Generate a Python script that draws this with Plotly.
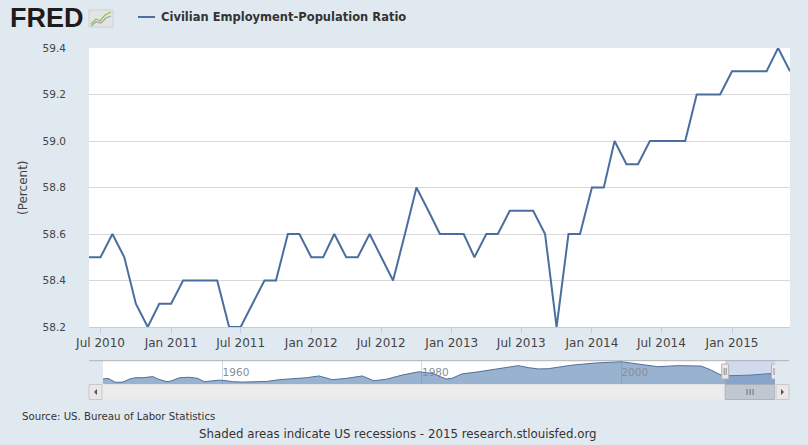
import pandas as pd
import plotly.graph_objects as go

# =========================
# DATA
# =========================
months = pd.date_range("2010-06-01", "2015-06-01", freq="MS")
emratio = [
    58.5, 58.5, 58.6, 58.5, 58.3, 58.2, 58.3,                          # Jun-Dec 2010
    58.3, 58.4, 58.4, 58.4, 58.4, 58.2, 58.2, 58.3, 58.4, 58.4, 58.6, 58.6,  # 2011
    58.5, 58.5, 58.6, 58.5, 58.5, 58.6, 58.5, 58.4, 58.6, 58.8, 58.7, 58.6,  # 2012
    58.6, 58.6, 58.5, 58.6, 58.6, 58.7, 58.7, 58.7, 58.6, 58.2, 58.6, 58.6,  # 2013
    58.8, 58.8, 59.0, 58.9, 58.9, 59.0, 59.0, 59.0, 59.0, 59.2, 59.2, 59.2,  # 2014
    59.3, 59.3, 59.3, 59.3, 59.4, 59.3,                                # Jan-Jun 2015
]

# navigator: long history, coarse read of the mini area chart
nav_dates = [
    "1948-01", "1948-07", "1949-04", "1950-01", "1950-09", "1951-04", "1952-01",
    "1953-01", "1953-07", "1954-06", "1954-11", "1955-09", "1956-09", "1957-07",
    "1958-03", "1959-01", "1959-09", "1960-06", "1961-01", "1962-01", "1963-06",
    "1964-06", "1965-09", "1967-01", "1968-06", "1969-09", "1971-01", "1972-06",
    "1974-01", "1975-03", "1976-06", "1978-01", "1979-09", "1981-01", "1982-06",
    "1983-01", "1984-01", "1985-09", "1987-06", "1989-09", "1990-09", "1991-09",
    "1992-09", "1993-06", "1995-01", "1997-06", "2000-01", "2001-06", "2003-09",
    "2005-09", "2008-01", "2009-01", "2010-01", "2010-09", "2013-01", "2014-09",
    "2015-06",
]
nav_values = [
    56.8, 57.1, 55.3, 55.4, 56.8, 57.4, 57.4,
    57.9, 56.8, 55.6, 55.9, 57.4, 57.6, 57.1,
    55.6, 56.0, 56.3, 56.0, 55.6, 55.4, 55.6,
    55.7, 56.5, 56.9, 57.4, 58.2, 56.5, 57.1,
    58.2, 56.0, 56.7, 58.6, 60.1, 59.4, 56.8,
    57.1, 59.1, 60.1, 61.4, 62.9, 62.0, 61.4,
    61.5, 62.0, 63.1, 64.1, 64.7, 63.8, 62.4,
    62.9, 62.7, 60.9, 58.6, 58.3, 58.6, 59.2,
    59.3,
]

y_ticks = [58.2, 58.4, 58.6, 58.8, 59.0, 59.2, 59.4]

# =========================
# STYLE
# =========================
W, H = 808, 445
ML, MR, MT, MB = 89, 18, 48, 45
BG = "#e1e9f0"
LINE = "#4a6e9e"
FONT = "DejaVu Sans"


def px(x):
    return (x - ML) / (W - ML - MR)


def py(y):
    return (H - MB - y) / (H - MT - MB)


sel_start, sel_end = str(months[0].date()), str(months[-1].date())
sel_mid = str((months[0] + (months[-1] - months[0]) / 2).date())

fig = go.Figure()

fig.add_trace(go.Scatter(
    x=months, y=emratio, mode="lines",
    line=dict(color=LINE, width=2),
    name="Civilian Employment-Population Ratio",
    xaxis="x", yaxis="y", showlegend=False,
))

fig.add_trace(go.Scatter(
    x=pd.to_datetime(nav_dates), y=nav_values, mode="lines",
    line=dict(color="#4f6f98", width=1),
    fill="tozeroy", fillcolor="rgba(69,114,167,0.55)",
    xaxis="x2", yaxis="y2", showlegend=False, hoverinfo="skip",
))

# =========================
# SHAPES (navigator / scrollbar / legend chrome)
# =========================
shapes = []
# navigator top line
shapes.append(dict(type="line", xref="paper", yref="paper",
                   x0=px(89), x1=px(789), y0=py(360.7), y1=py(360.7),
                   line=dict(color="#b2b1b6", width=1)))
# scrollbar track
shapes.append(dict(type="rect", xref="paper", yref="paper",
                   x0=px(89), x1=px(789), y0=py(399.5), y1=py(384.5),
                   fillcolor="#ececec", line=dict(width=0)))
# arrow buttons
for bx0, bx1, tri in [(89, 102, "left"), (776, 789, "right")]:
    shapes.append(dict(type="rect", xref="paper", yref="paper",
                       x0=px(bx0), x1=px(bx1), y0=py(399.5), y1=py(384.5),
                       fillcolor="#ebe7e8", line=dict(color="#c8c8cc", width=1)))
    cx, cy = (bx0 + bx1) / 2, 392
    if tri == "left":
        pts = [(cx + 1.5, cy - 3), (cx - 1.5, cy), (cx + 1.5, cy + 3)]
    else:
        pts = [(cx - 1.5, cy - 3), (cx + 1.5, cy), (cx - 1.5, cy + 3)]
    path = "M " + " L ".join(f"{px(a)},{py(b)}" for a, b in pts) + " Z"
    shapes.append(dict(type="path", xref="paper", yref="paper", path=path,
                       fillcolor="#555555", line=dict(width=0)))
# scrollbar thumb follows the selected range
shapes.append(dict(type="rect", xref="x2", yref="paper",
                   x0=sel_start, x1=sel_end, y0=py(399.5), y1=py(384.5),
                   fillcolor="#bfc8d1", line=dict(color="#b2b1b6", width=1)))
for off in (-3, 0, 3):
    shapes.append(dict(type="line", xref="x2", yref="paper", xsizemode="pixel",
                       xanchor=sel_mid, x0=off, x1=off, y0=py(395), y1=py(389),
                       line=dict(color="#6b6b6b", width=1)))
# navigator mask
shapes.append(dict(type="rect", xref="x2", yref="paper",
                   x0=sel_start, x1=sel_end, y0=py(384.3), y1=py(360.7),
                   fillcolor="rgba(102,133,194,0.3)", line=dict(width=0), layer="above"))
# handles
for anchor in (sel_start, sel_end):
    shapes.append(dict(type="rect", xref="x2", yref="paper", xsizemode="pixel",
                       xanchor=anchor, x0=-3.5, x1=3.5, y0=py(379), y1=py(364),
                       fillcolor="#ebe7e8", line=dict(color="#b2b1b6", width=1)))
    for off in (-1, 1):
        shapes.append(dict(type="line", xref="x2", yref="paper", xsizemode="pixel",
                           xanchor=anchor, x0=off, x1=off, y0=py(375), y1=py(368),
                           line=dict(color="#8a8a8a", width=1)))
# legend swatch
shapes.append(dict(type="line", xref="paper", yref="paper",
                   x0=px(138), x1=px(155), y0=py(17), y1=py(17),
                   line=dict(color=LINE, width=2)))
# FRED icon
shapes.append(dict(type="rect", xref="paper", yref="paper",
                   x0=px(89), x1=px(113), y0=py(27), y1=py(10),
                   fillcolor="#e4e4e4", line=dict(color="#d0d0d0", width=1)))
for pts, col in [([(91, 24), (96, 19), (100, 21), (105, 15), (111, 12)], "#8dc63f"),
                 ([(91, 26), (96, 22), (101, 23), (106, 18), (111, 16)], "#9aa5b1")]:
    path = "M " + " L ".join(f"{px(a)},{py(b)}" for a, b in pts)
    shapes.append(dict(type="path", xref="paper", yref="paper", path=path,
                       line=dict(color=col, width=1.2)))

# =========================
# ANNOTATIONS
# =========================
annotations = [
    dict(text="<b>FRED</b>", xref="paper", yref="paper", x=px(8), y=py(18),
         xanchor="left", yanchor="middle", showarrow=False,
         font=dict(family="Liberation Sans", size=27, color="#1e1b1c")),
    dict(text="<b>Civilian Employment-Population Ratio</b>", xref="paper", yref="paper",
         x=px(159), y=py(17), xanchor="left", yanchor="middle", showarrow=False,
         font=dict(family=FONT, size=11.5, color="#333333")),
    dict(text="(Percent)", xref="paper", yref="paper", x=px(22.5), y=py(187.5),
         xanchor="center", yanchor="middle", textangle=-90, showarrow=False,
         font=dict(family=FONT, size=12, color="#444444")),
    dict(text="Source: US. Bureau of Labor Statistics", xref="paper", yref="paper",
         x=px(20), y=py(416), xanchor="left", yanchor="middle", showarrow=False,
         font=dict(family=FONT, size=10.2, color="#333333")),
    dict(text="Shaded areas indicate US recessions - 2015 research.stlouisfed.org",
         xref="paper", yref="paper", x=px(197), y=py(434.5), xanchor="left",
         yanchor="middle", showarrow=False,
         font=dict(family=FONT, size=11.8, color="#333333")),
]

# =========================
# LAYOUT
# =========================
fig.update_layout(
    width=W, height=H,
    margin=dict(l=ML, r=MR, t=MT, b=MB),
    paper_bgcolor=BG, plot_bgcolor="white",
    font=dict(family=FONT, color="#444444"),
    shapes=shapes, annotations=annotations,
    hovermode="x",
    xaxis=dict(
        domain=[0, 1], anchor="y",
        range=[sel_start, sel_end],
        tick0="2010-07-01", dtick="M6", tickformat="%b %Y",
        ticks="outside", ticklen=5, tickcolor="#c0d0e0",
        showline=True, linecolor="#c0d0e0", linewidth=1,
        showgrid=False, zeroline=False,
        tickfont=dict(family=FONT, size=12, color="#444444"),
    ),
    yaxis=dict(
        domain=[py(327), 1], anchor="x",
        range=[y_ticks[0], y_ticks[-1]],
        tickvals=y_ticks, tickformat=".1f",
        showgrid=True, gridcolor="#d8d8d8", gridwidth=1,
        zeroline=False, showline=False, ticks="",
        ticklabelstandoff=22,
        tickfont=dict(family=FONT, size=10.5, color="#444444"),
    ),
    xaxis2=dict(
        domain=[px(103), px(775)], anchor="y2",
        range=["1948-01-01", sel_end],
        tick0="1960-01-01", dtick="M240", tickformat="%Y",
        ticklabelposition="inside right", ticks="",
        showgrid=True, gridcolor="#d4dbe3", gridwidth=1,
        showline=False, zeroline=False,
        tickfont=dict(family=FONT, size=10.5, color="#85909c"),
    ),
    yaxis2=dict(
        domain=[py(384.3), py(360.7)], anchor="x2",
        range=[54.4, 65.15],
        visible=False, showgrid=False, zeroline=False,
    ),
)

# page has a default 8px body margin; drop it so the chart fills the window
fig.write_html(
    "out.html",
    config={"displayModeBar": False},
    post_script=f"document.body.style.margin='0';document.body.style.background='{BG}';",
)
